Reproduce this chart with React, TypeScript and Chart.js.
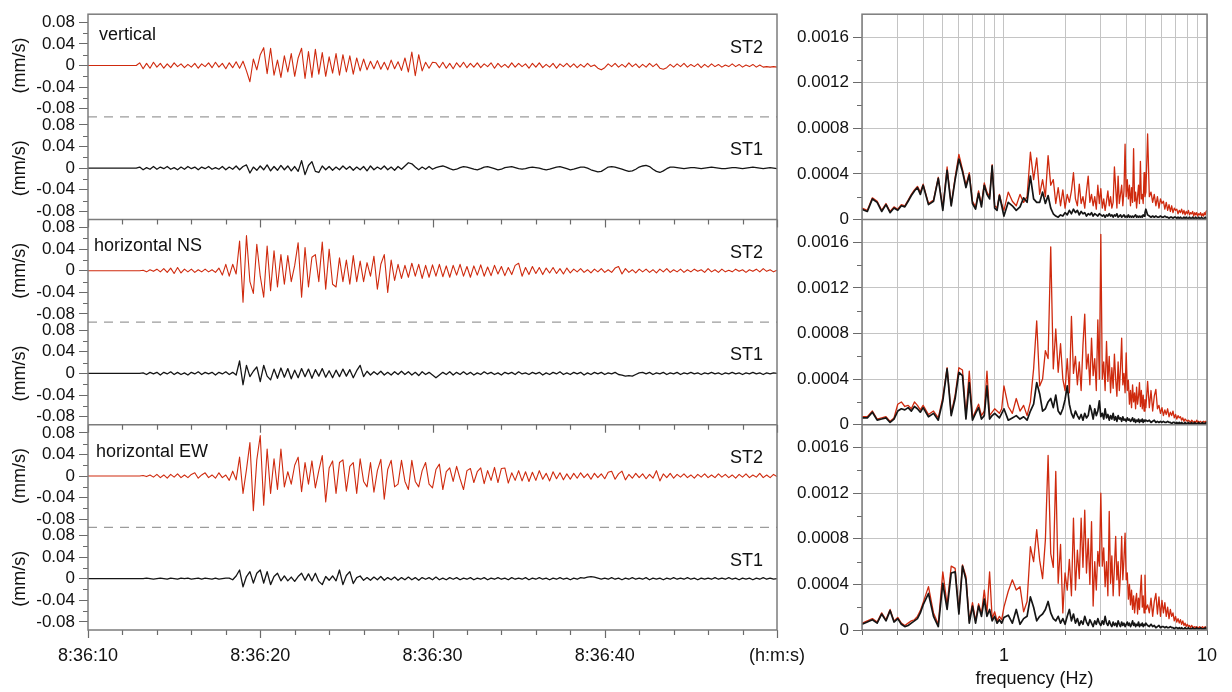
import React, { useEffect, useRef } from 'react';
import { Chart, registerables } from 'chart.js';

Chart.register(...registerables);

// ---------------- data ----------------
// Seismograms: velocity in µm/s (converted to mm/s for plotting), sampled every 0.2 s from 8:36:10
const TIME_START = 10; // seconds after 8:36:00
const SAMPLE_INTERVAL = 0.2;
const TIME_TICKS = [10, 20, 30, 40, 50];
const TIME_TICK_LABELS = ['8:36:10', '8:36:20', '8:36:30', '8:36:40', '(h:m:s)'];
const TIME_MINOR_STEP = 2;

const COMPONENTS = ['vertical', 'horizontal NS', 'horizontal EW'];
const STATIONS = ['ST2', 'ST1'];

const VEL_TICKS = [-0.08, -0.04, 0, 0.04, 0.08];
const VEL_MINOR_TICKS = [-0.06, -0.02, 0.02, 0.06];

const vertSt2 = [
  0,0,0,0,0,0,0,0,0,0,
  0,0,0,0,0,5,-6,4,-5,6,
  -3,4,-5,3,-4,5,-2,3,-4,2,
  -3,4,-5,3,-2,5,-4,6,-3,4,
  -6,5,-4,7,-5,8,-10,-30,12,-8,
  20,33,-15,32,-18,10,-22,18,-12,22,
  -20,14,32,-24,26,-22,30,-16,24,-20,
  16,-14,22,-18,20,-12,18,-16,14,-10,
  12,-8,8,-6,9,-7,6,-8,10,-6,
  7,-9,14,-12,25,-19,20,-10,6,-5,
  6,5,-4,6,-5,4,-6,5,-3,6,
  -4,4,-3,5,-4,3,-2,5,-5,4,
  -3,2,-4,5,-3,4,-2,3,-5,4,
  -3,5,-4,2,-3,4,-5,3,-2,4,
  -3,3,-4,2,-3,4,-2,1,-5,-8,
  -4,3,-2,4,-3,2,-3,5,-2,3,
  -4,2,-3,4,-2,3,-5,-7,-4,2,
  -3,3,-2,4,-3,2,-2,3,-4,2,
  -3,3,-2,2,-3,1,-2,3,-2,2,
  -3,1,-2,2,-3,1,-3,-2,-3,-2,
  -3,
];
const vertSt1 = [
  0,0,0,0,0,0,0,0,0,0,
  0,0,0,0,0,2,-3,1,-2,3,
  -2,2,-1,3,-2,1,-3,2,-2,3,
  -1,2,-3,2,-1,3,-2,1,-2,3,
  -3,2,-2,4,-3,3,6,-9,2,-4,
  4,-3,6,-5,3,-4,5,-3,4,-5,
  3,-6,14,-12,5,12,-6,-8,4,-3,
  3,-4,2,-3,4,-2,3,-4,2,-3,
  3,-5,4,-3,2,-2,4,-3,2,-4,
  3,-2,4,10,8,2,-3,2,-2,3,
  -2,1,3,4,2,-1,-3,-2,1,3,
  2,0,-2,-3,-1,2,3,1,-1,-3,
  -2,1,2,3,1,-1,-2,-1,1,2,
  1,0,-2,-3,-2,0,2,3,1,-1,
  -3,-2,0,2,2,0,-3,-5,-7,-6,
  -2,2,3,2,0,-2,-4,-6,-5,-2,
  2,4,5,3,-2,-6,-8,-5,-1,2,
  2,1,0,-1,0,1,1,0,-1,0,
  1,2,1,0,-1,-1,0,1,1,0,
  -1,0,1,2,1,0,-1,0,1,0,
  -1,
];
const nsSt2 = [
  0,0,0,0,0,0,0,0,0,0,
  0,0,0,0,0,0,1,-2,2,-1,
  3,-2,4,-3,5,-5,6,-4,3,-2,
  3,-3,2,-2,3,-2,2,-3,5,-8,
  12,-10,12,-6,55,-58,65,-20,-42,49,
  -10,-49,46,-37,37,-30,30,-25,28,-20,
  10,52,-49,43,-30,25,30,-20,53,-34,
  40,-25,-30,24,-20,20,-25,28,-20,18,
  -20,15,-10,27,-34,12,30,-40,20,-18,
  12,-14,10,-12,14,-10,12,-14,10,-12,
  11,-10,12,-11,9,-12,10,-8,12,-10,
  8,-12,9,-8,11,-10,7,-9,10,-6,
  8,-9,6,-7,10,14,-10,6,-7,8,
  -5,6,-7,5,-4,6,-5,4,-6,5,
  -4,3,-2,4,-3,2,-4,3,-2,4,
  -3,2,-3,5,8,-6,4,-3,2,-4,
  3,-2,3,-3,2,-4,3,-2,4,-3,
  2,-2,3,-3,2,-2,3,-1,2,-3,
  4,-2,2,-3,3,-2,1,-2,3,-1,
  2,-3,2,-1,3,-2,4,-1,2,-2,
  1,
];
const nsSt1 = [
  0,0,0,0,0,0,0,0,0,0,
  0,0,0,0,0,0,1,-2,2,-1,
  2,-3,2,-1,3,-2,2,-2,1,-3,
  2,-1,3,-2,2,-1,2,-3,2,-1,
  3,-2,2,-3,23,-21,15,-6,4,12,
  -15,15,-5,-12,8,-9,10,-7,9,-10,
  6,-8,9,-6,8,-9,7,-5,9,-7,
  5,-8,6,-6,8,-5,7,-8,5,15,
  -6,4,-3,3,-2,4,-3,2,-3,3,
  -2,4,-2,3,-3,2,-4,3,-2,2,
  -3,-8,-3,2,-2,3,-3,2,-2,3,
  -2,2,-3,1,-2,3,-1,2,-2,1,
  -3,2,-1,2,-2,3,-1,1,-2,2,
  -1,2,-3,1,-2,2,-1,3,-2,1,
  -2,2,-1,2,-3,1,-2,2,-1,2,
  -2,1,-1,2,-2,-3,-5,-4,-5,-2,
  1,2,-1,2,-2,1,-1,2,-2,1,
  -1,2,-2,1,-1,2,-1,1,-2,1,
  -1,2,-1,1,-2,1,-1,2,-1,1,
  -2,1,-1,2,-1,1,-2,1,-1,1,
  0,
];
const ewSt2 = [
  0,0,0,0,0,0,0,0,0,0,
  0,0,0,0,0,0,1,-1,2,-2,
  3,-3,2,-4,3,-2,4,-3,2,-3,
  3,6,-4,2,6,-3,2,-4,6,-3,
  2,-8,9,-7,35,-32,12,62,-64,30,
  75,-54,50,-32,32,-25,50,-20,8,-15,
  20,35,-29,25,-15,28,-22,10,38,-48,
  15,28,-32,25,30,-28,18,25,-32,32,
  -10,-20,25,-30,10,31,-43,12,29,-20,
  -15,29,-10,-25,29,-10,-20,10,25,-15,
  -22,12,22,-25,8,15,-10,18,-5,-25,
  10,14,-12,8,15,-14,10,-8,16,-12,
  14,15,-13,6,-8,10,-9,8,-10,7,
  -8,10,-6,5,-9,8,-5,6,-7,4,
  -6,5,-4,6,-3,4,-6,5,-3,4,
  -5,7,9,-6,4,9,-7,3,-4,5,
  -3,4,-5,3,-4,10,-9,4,-3,5,
  -4,3,-2,4,-3,2,-4,3,-2,4,
  -3,2,-3,4,-2,3,-3,2,-4,3,
  -2,4,-3,2,-2,5,-3,2,-3,3,
  -1,
];
const ewSt1 = [
  0,0,0,0,0,0,0,0,0,0,
  0,0,0,0,0,0,0,1,0,-1,
  0,1,0,-1,1,0,-1,1,0,1,
  -1,0,1,-1,1,0,-1,1,-1,0,
  1,1,-2,5,16,-15,4,13,-8,10,
  16,-8,13,-11,4,10,-4,5,-4,3,
  -5,4,10,-3,9,-4,10,-5,-11,4,
  -3,5,-4,16,-11,6,13,-9,2,5,
  -3,2,-3,3,-2,4,-3,2,-2,3,
  -3,2,-2,3,-2,2,-3,2,-1,2,
  -2,3,-2,1,-2,2,-1,2,-2,1,
  -1,2,-2,1,-1,2,-2,1,-1,2,
  -1,1,-2,2,-1,1,-1,2,-2,1,
  -1,2,-1,1,-2,1,-1,2,-1,1,
  -2,1,-1,2,1,3,4,3,1,-1,
  1,-1,2,-1,1,-2,1,-1,2,-1,
  1,-1,2,-2,1,-1,1,-2,1,-1,
  2,-1,1,-1,2,-1,1,-2,1,-1,
  1,-1,2,-1,1,-1,2,-1,1,-2,
  1,-1,1,-2,1,-1,2,-1,1,-1,
  0,
];

// Spectra: amplitude in units of 1e-5, on a frequency grid (Hz) made of these segments [from, to, step]
const FREQ_SEGMENTS = [
  [0.2, 0.4, 0.0125],
  [0.425, 1.0, 0.025],
  [1.05, 5.0, 0.05],
  [5.1, 10.0, 0.1],
];
const FREQ_GRID_TICKS = [0.2, 0.3, 0.4, 0.5, 0.6, 0.7, 0.8, 0.9, 1, 2, 3, 4, 5, 6, 7, 8, 9, 10];
const FREQ_TICK_LABELS = { 1: '1', 10: '10' };
const SPEC_TICKS = [0, 0.0004, 0.0008, 0.0012, 0.0016];
const SPEC_MINOR_TICKS = [0.0002, 0.0006, 0.001, 0.0014];

const vertSt1Spec = [
  9,7,18,15,7,13,6,10,8,12,11,16,21,25,28,22,30,
  13,16,36,8,43,12,35,53,42,28,39,14,9,23,11,30,22,18,47,10,8,21,12,3,
  15,12,8,11,19,15,38,18,15,15, 24,14,21,10,5,3,2,4,3,6, 4,8,5,9,6,8,4,7,5,6, 3,5,4,6,3,5,4,3,5,4,
  3,4,2,4,3,5,3,4,2,4, 3,5,2,3,4,2,3,4,2,3, 2,4,2,3,2,3,2,3,4,2, 3,2,3,2,3,2,4,3,6,9,
  4,3,2,3,2,3,2,2,3,2, 2,3,2,2,1,2,2,1,2,2, 1,2,1,2,1,1,2,1,2,1, 1,2,1,1,2,1,1,2,1,1, 2,1,1,2,1,1,1,2,1,1,
];
const vertSt2Spec = [
  10,8,19,16,8,14,7,11,9,13,12,17,22,26,29,24,31,
  14,17,37,10,46,13,37,57,44,30,41,16,11,25,13,32,24,20,48,12,10,22,14,8,
  24,16,12,22,15,20,59,35,54,22, 35,20,56,30,35,14,28,12,26,10, 22,15,25,41,18,12,31,14,20,10, 25,38,15,22,12,20,9,30,14,27,
  10,18,8,16,25,12,20,10,15,46, 28,10,38,14,22,30,12,25,66,20, 35,18,30,12,28,15,62,16,24,10, 20,30,14,51,18,22,14,41,20,24,
  75,20,24,15,22,12,20,10,18,14, 16,9,15,8,13,7,12,6,10,8, 9,5,8,6,9,5,8,4,7,5, 8,4,6,5,7,3,6,4,6,3, 5,4,6,3,5,3,6,4,7,8,
];
const nsSt1Spec = [
  6,6,11,4,5,6,2,5,12,14,13,15,12,16,14,11,15,
  7,10,4,21,49,8,23,46,43,5,37,4,10,15,5,8,34,5,8,10,8,6,10,14,
  4,6,8,5,7,4,12,18,37,27, 12,14,20,23,15,26,12,9,14,22, 34,18,10,6,12,8,5,9,4,10, 6,8,17,12,5,14,8,12,21,7,
  10,5,14,6,9,4,8,5,10,4, 7,3,8,5,6,3,7,4,5,3, 6,4,5,3,4,6,3,5,2,4, 3,5,2,4,3,5,2,4,3,4,
  3,4,2,3,4,2,3,2,3,2, 3,2,2,3,2,2,1,2,2,1, 2,1,2,1,2,1,1,2,1,1, 2,1,1,2,1,1,2,1,1,1, 2,1,1,1,2,1,1,1,2,1,
];
const nsSt2Spec = [
  7,7,12,5,6,7,3,6,18,20,16,17,14,20,17,13,17,
  9,12,6,24,50,10,26,50,48,8,47,6,12,18,8,12,47,8,11,14,12,10,14,34,
  16,10,23,12,17,8,20,49,91,34, 40,65,58,156,49,84,46,71,40,30, 58,28,95,45,60,35,55,30,70,97, 49,62,35,76,43,58,30,92,40,167,
  40,55,30,73,38,60,28,50,32,62, 40,25,55,30,50,76,35,45,28,63, 30,39,18,30,15,35,20,28,14,33, 18,25,37,16,30,14,26,12,22,15,
  38,15,30,12,25,31,14,17,10,15, 8,13,9,14,7,11,8,12,6,9, 5,8,6,7,4,6,3,5,4,3, 4,3,2,4,3,2,3,2,4,2, 3,2,3,2,2,3,2,3,2,3,
];
const ewSt1Spec = [
  5,7,9,6,14,8,17,7,10,5,3,4,6,8,10,15,22,
  32,12,3,41,18,50,51,14,56,44,6,21,6,21,12,27,12,18,8,12,6,9,6,11,
  13,6,18,5,10,12,29,20,8,12, 14,18,25,15,10,8,12,6,10,5, 12,18,8,14,6,10,4,8,5,12, 7,4,9,6,3,8,5,10,6,4,
  8,5,12,6,4,8,5,3,7,4, 6,3,8,5,3,7,4,6,3,5, 7,4,6,3,5,8,4,6,3,5, 4,7,3,5,4,6,3,5,4,6,
  4,3,5,3,4,2,3,4,2,3, 3,2,3,2,2,3,2,2,1,2, 2,1,2,1,2,1,1,2,1,1, 2,1,1,1,2,1,1,1,2,1, 1,1,2,1,1,1,1,2,1,1,
];
const ewSt2Spec = [
  6,8,10,7,15,9,18,8,11,6,4,6,8,9,12,17,24,
  38,15,5,51,22,56,54,16,57,47,8,24,8,23,14,35,15,51,10,16,8,12,9,20,
  34,44,35,38,16,25,73,60,88,61, 45,79,153,67,55,139,41,75,15,50, 35,62,30,98,35,70,45,98,55,105, 50,80,40,95,21,60,35,69,56,120,
  56,72,38,60,30,104,41,65,30,55, 82,44,60,30,50,82,44,62,85,44, 50,27,40,22,35,18,30,15,26,32, 14,28,18,35,48,20,30,15,48,18,
  22,15,28,12,25,32,14,29,12,26, 15,24,12,20,10,18,12,15,8,12, 7,10,6,9,5,8,4,6,3,5, 3,4,2,4,3,2,3,2,3,2, 2,3,2,2,3,2,2,3,2,2,
];

const WAVE_SERIES = [
  [vertSt2, vertSt1],
  [nsSt2, nsSt1],
  [ewSt2, ewSt1],
];
const SPEC_SERIES = [
  [vertSt2Spec, vertSt1Spec],
  [nsSt2Spec, nsSt1Spec],
  [ewSt2Spec, ewSt1Spec],
];

// ---------------- style ----------------
const FONT = "'Liberation Sans', Arial, Helvetica, sans-serif";
const TEXT = '#111111';
const RED = '#cf2a0e';
const BLACK = '#151515';
const AXIS = '#6a6a6a';
const FRAME = '#7c7c7c';
const GRID = '#c4c4c4';
const DASH = '#9c9c9c';
const UM_TO_MM = 0.001;
const SPEC_UNIT = 1e-5;

const W = 1232;
const H = 692;
const LEFT_W = 830;
const RIGHT_X = 780;
const RIGHT_W = W - RIGHT_X;
const PLOT_TOP = 10;
const X_AXIS_H = 62;

function buildFreqs(): number[] {
  const out: number[] = [];
  for (const [from, to, step] of FREQ_SEGMENTS) {
    const n = Math.round((to - from) / step);
    for (let k = 0; k <= n; k++) out.push(+(from + k * step).toFixed(4));
  }
  return out;
}

function fmt(v: number, digits: number) {
  const r = Math.round(v * Math.pow(10, digits)) / Math.pow(10, digits);
  return r === 0 ? '0' : String(r);
}

function line(ctx: CanvasRenderingContext2D, x1: number, y1: number, x2: number, y2: number) {
  ctx.beginPath();
  ctx.moveTo(x1, y1);
  ctx.lineTo(x2, y2);
  ctx.stroke();
}

const COMP_LABEL_POS = [
  { dx: 11, dy: 26 },
  { dx: 6, dy: 32 },
  { dx: 8, dy: 32 },
];

const wavePlugin = {
  id: 'waveDecor',
  afterDatasetsDraw(chart: any) {
    const { ctx, chartArea: a, scales } = chart;
    ctx.save();
    // minor y ticks
    ctx.strokeStyle = AXIS;
    ctx.lineWidth = 1;
    for (let i = 0; i < 6; i++) {
      const s = scales['y' + i];
      for (const v of VEL_MINOR_TICKS) {
        const y = Math.round(s.getPixelForValue(v)) + 0.5;
        line(ctx, a.left - 5, y, a.left, y);
      }
    }
    // dashed separators between stations
    ctx.strokeStyle = DASH;
    ctx.lineWidth = 1.2;
    ctx.setLineDash([9, 7]);
    for (const r of [0, 2, 4]) {
      const y = scales['y' + r].bottom;
      line(ctx, a.left, y, a.right, y);
    }
    ctx.setLineDash([]);
    // solid row separators
    ctx.strokeStyle = FRAME;
    ctx.lineWidth = 1.5;
    for (const r of [1, 3]) {
      const y = scales['y' + r].bottom;
      line(ctx, a.left, y, a.right, y);
    }
    // x ticks at row tops and bottom
    const xs = scales.x;
    ctx.strokeStyle = AXIS;
    ctx.lineWidth = 1.2;
    for (let t = TIME_TICKS[0]; t <= TIME_TICKS[TIME_TICKS.length - 1]; t += TIME_MINOR_STEP) {
      const x = Math.round(xs.getPixelForValue(t)) + 0.5;
      const major = TIME_TICKS.includes(t);
      const len = major ? 8 : 5;
      for (const r of [2, 4]) {
        const y0 = scales['y' + r].top;
        line(ctx, x, y0, x, y0 + len);
      }
      line(ctx, x, a.bottom, x, a.bottom + len);
    }
    // frame
    ctx.strokeStyle = FRAME;
    ctx.lineWidth = 1.5;
    ctx.strokeRect(a.left, a.top, a.right - a.left, a.bottom - a.top);
    // labels
    ctx.fillStyle = TEXT;
    ctx.font = `18px ${FONT}`;
    ctx.textBaseline = 'alphabetic';
    for (let r = 0; r < 3; r++) {
      const top = scales['y' + r * 2].top;
      ctx.textAlign = 'left';
      ctx.fillText(COMPONENTS[r], a.left + COMP_LABEL_POS[r].dx, top + COMP_LABEL_POS[r].dy);
      for (let s = 0; s < 2; s++) {
        const sc = scales['y' + (r * 2 + s)];
        ctx.textAlign = 'right';
        ctx.fillText(STATIONS[s], a.right - 14, sc.getPixelForValue(0) - 13);
      }
    }
    ctx.restore();
  },
};

const specPlugin = {
  id: 'specDecor',
  afterDatasetsDraw(chart: any) {
    const { ctx, chartArea: a, scales } = chart;
    ctx.save();
    ctx.strokeStyle = AXIS;
    ctx.lineWidth = 1;
    for (let i = 0; i < 3; i++) {
      const s = scales['s' + i];
      for (const v of SPEC_MINOR_TICKS) {
        const y = Math.round(s.getPixelForValue(v)) + 0.5;
        line(ctx, a.left - 5, y, a.left, y);
      }
    }
    ctx.strokeStyle = FRAME;
    ctx.lineWidth = 1.5;
    for (const r of [0, 1]) {
      const y = scales['s' + r].bottom;
      line(ctx, a.left, y, a.right, y);
    }
    ctx.strokeRect(a.left, a.top, a.right - a.left, a.bottom - a.top);
    ctx.restore();
  },
};

function waveConfig(): any {
  const scales: any = {
    x: {
      type: 'linear',
      min: TIME_TICKS[0],
      max: TIME_TICKS[TIME_TICKS.length - 1],
      afterBuildTicks: (s: any) => { s.ticks = TIME_TICKS.map((value) => ({ value })); },
      ticks: {
        callback: (_v: any, i: number) => TIME_TICK_LABELS[i],
        autoSkip: false,
        maxRotation: 0,
        padding: 15,
        color: TEXT,
        font: { family: FONT, size: 18 },
      },
      grid: { display: false, drawTicks: false },
      border: { display: false },
      afterFit: (s: any) => { s.height = X_AXIS_H; },
    },
  };
  const datasets: any[] = [];
  for (let r = 0; r < 3; r++) {
    for (let s = 0; s < 2; s++) {
      const idx = r * 2 + s;
      const id = 'y' + idx;
      scales[id] = {
        type: 'linear',
        position: 'left',
        stack: 'wave',
        stackWeight: 1,
        weight: 6 - idx,
        min: -0.095,
        max: 0.095,
        afterBuildTicks: (sc: any) => { sc.ticks = VEL_TICKS.map((value) => ({ value })); },
        ticks: {
          callback: (v: number) => fmt(v, 2),
          autoSkip: false,
          color: TEXT,
          padding: 4,
          font: { family: FONT, size: 17 },
        },
        grid: { drawOnChartArea: false, drawTicks: true, tickLength: 9, color: AXIS, lineWidth: 1 },
        border: { display: false },
        title: {
          display: true,
          text: '(mm/s)',
          color: TEXT,
          font: { family: FONT, size: 18 },
          padding: { top: 9, bottom: 0 },
        },
        afterFit: (sc: any) => { sc.width = 88; },
      };
      const series = WAVE_SERIES[r][s];
      datasets.push({
        data: series.map((v, k) => ({ x: TIME_START + k * SAMPLE_INTERVAL, y: v * UM_TO_MM })),
        yAxisID: id,
        borderColor: s === 0 ? RED : BLACK,
        borderWidth: s === 0 ? 1.1 : 1.3,
        pointRadius: 0,
        tension: 0,
        borderJoinStyle: 'round',
        fill: false,
      });
    }
  }
  return {
    type: 'line',
    data: { datasets },
    options: {
      responsive: false,
      animation: false,
      devicePixelRatio: 1,
      events: [],
      layout: { padding: { left: 0, right: LEFT_W - 777, top: PLOT_TOP, bottom: 0 } },
      plugins: { legend: { display: false }, tooltip: { enabled: false } },
      scales,
    },
    plugins: [wavePlugin],
  };
}

function specConfig(): any {
  const freqs = buildFreqs();
  const scales: any = {
    x: {
      type: 'logarithmic',
      min: 0.2,
      max: 10,
      afterBuildTicks: (s: any) => { s.ticks = FREQ_GRID_TICKS.map((value) => ({ value })); },
      ticks: {
        callback: (v: number) => {
          for (const k of Object.keys(FREQ_TICK_LABELS)) {
            if (Math.abs(v - Number(k)) < 1e-9) return (FREQ_TICK_LABELS as any)[k];
          }
          return '';
        },
        autoSkip: false,
        maxRotation: 0,
        padding: 10,
        color: TEXT,
        font: { family: FONT, size: 18 },
      },
      grid: { color: GRID, lineWidth: 1, drawTicks: true, tickLength: 5, tickColor: AXIS },
      border: { display: false },
      title: {
        display: true,
        text: 'frequency (Hz)',
        color: TEXT,
        font: { family: FONT, size: 18 },
        padding: { top: 0, bottom: 2 },
      },
      afterFit: (s: any) => { s.height = X_AXIS_H; },
    },
  };
  const datasets: any[] = [];
  for (let r = 0; r < 3; r++) {
    const id = 's' + r;
    scales[id] = {
      type: 'linear',
      position: 'left',
      stack: 'spec',
      stackWeight: 1,
      weight: 3 - r,
      min: 0,
      max: 0.0018,
      afterBuildTicks: (sc: any) => { sc.ticks = SPEC_TICKS.map((value) => ({ value })); },
      ticks: {
        callback: (v: number) => fmt(v, 4),
        autoSkip: false,
        color: TEXT,
        padding: 4,
        font: { family: FONT, size: 17 },
      },
      grid: { drawOnChartArea: true, drawTicks: true, tickLength: 9, color: GRID, tickColor: AXIS, lineWidth: 1 },
      border: { display: false },
      afterFit: (sc: any) => { sc.width = 82; },
    };
    // black (ST1) first so it is drawn on top
    for (const s of [1, 0]) {
      const series = SPEC_SERIES[r][s];
      datasets.push({
        data: series.map((v, k) => ({ x: freqs[k], y: v * SPEC_UNIT })),
        yAxisID: id,
        borderColor: s === 0 ? RED : BLACK,
        borderWidth: s === 0 ? 1.3 : 1.7,
        pointRadius: 0,
        tension: 0,
        borderJoinStyle: 'round',
        fill: false,
      });
    }
  }
  return {
    type: 'line',
    data: { datasets },
    options: {
      responsive: false,
      animation: false,
      devicePixelRatio: 1,
      events: [],
      layout: { padding: { left: 0, right: RIGHT_W - (1207 - RIGHT_X), top: PLOT_TOP, bottom: 0 } },
      plugins: { legend: { display: false }, tooltip: { enabled: false } },
      scales,
    },
    plugins: [specPlugin],
  };
}

export default function App() {
  const leftRef = useRef<HTMLCanvasElement>(null);
  const rightRef = useRef<HTMLCanvasElement>(null);
  useEffect(() => {
    const c1 = new Chart(leftRef.current as HTMLCanvasElement, waveConfig());
    const c2 = new Chart(rightRef.current as HTMLCanvasElement, specConfig());
    return () => {
      c1.destroy();
      c2.destroy();
    };
  }, []);
  return (
    <div style={{ position: 'absolute', left: 0, top: 0, width: W, height: H, background: '#ffffff', overflow: 'hidden' }}>
      <canvas ref={leftRef} width={LEFT_W} height={H} style={{ position: 'absolute', left: 0, top: 0 }} />
      <canvas ref={rightRef} width={RIGHT_W} height={H} style={{ position: 'absolute', left: RIGHT_X, top: 0 }} />
    </div>
  );
}
